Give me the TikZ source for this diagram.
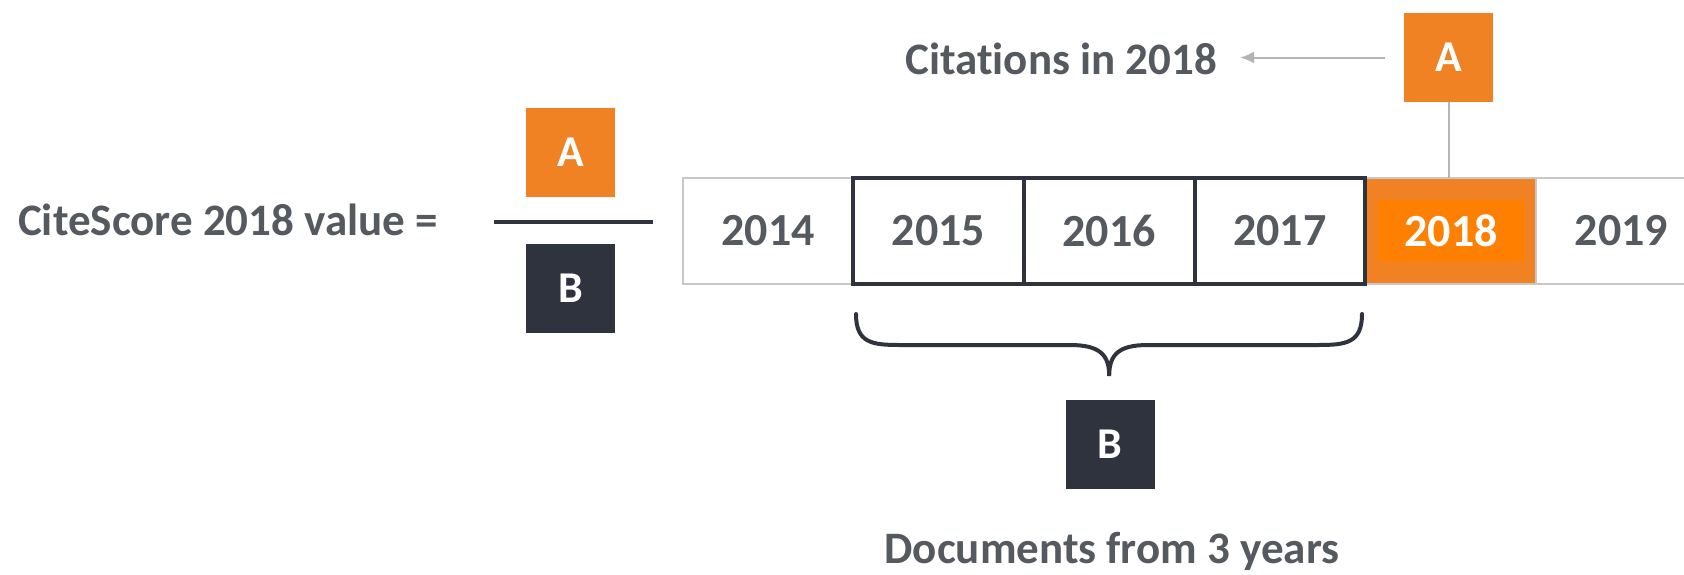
\documentclass[tikz,border=0pt]{standalone}
\usepackage{fontspec}
\setmainfont{Carlito}[Ligatures={NoCommon}]
\usetikzlibrary{arrows.meta}
\definecolor{orng}{HTML}{F08223}
\definecolor{orngin}{HTML}{FF8000}
\definecolor{darkbox}{HTML}{2F333D}
\definecolor{txtgray}{HTML}{555A60}
\definecolor{lightgr}{HTML}{C8C8C8}
\definecolor{arrgr}{HTML}{B4B4B4}
\begin{document}
\begin{tikzpicture}[x=1pt,y=-1pt,
  cell/.style={minimum width=170.6pt, minimum height=106pt, inner sep=0pt, outer sep=0pt,
    font=\fontsize{46}{50}\selectfont\bfseries, text=txtgray, draw=lightgr, line width=2pt},
  boldcell/.style={cell, draw=darkbox, line width=4pt},
  sq/.style={minimum size=89pt, inner sep=0pt, outer sep=0pt, font=\fontsize{44}{48}\selectfont\bfseries, text=white},
  lbl/.style={font=\fontsize{45}{50}\selectfont\bfseries, text=txtgray, inner sep=0pt},
  conn/.style={draw=arrgr, line width=2pt}
]
\useasboundingbox (0,0) rectangle (1684,574);
\fill[white] (0,0) rectangle (1684,574);
% left formula
\node[lbl, anchor=base east] (formula) at (438,235) {CiteScore 2018 value =};
\node[sq, fill=orng] (fa) at (570.5,152) {A};
\node[sq, fill=darkbox] (fb) at (570.5,288.5) {B};
\coordinate (fl) at (494,222);
\coordinate (fr) at (653,222);
\draw[darkbox, line width=4pt] (fl) -- (fr);
% year row
\node[cell] (y2014) at (768,231) {2014};
\node[cell, fill=orng, draw=orng, text=white] (y2018) at (1451,231) {};
\fill[orngin] (1378,200) rectangle (1524,262);
\node[cell, draw=none, text=white] (t2018) at (1451,231) {2018};
\node[cell] (y2019) at (1621.6,231) {2019};
\draw[lightgr, line width=2pt] (y2014.north west) -- (1700,178);
\draw[lightgr, line width=2pt] (y2014.south west) -- (1700,284);
\node[boldcell] (y2015) at (938.6,231) {2015};
\node[boldcell] (y2016) at (1109.2,231) {2016};
\node[boldcell] (y2017) at (1279.8,231) {2017};
% top A
\node[sq, fill=orng] (ta) at (1448.5,57.5) {A};
\draw[conn] (ta.south) -- (ta.south |- y2018.north);
\node[lbl, anchor=base east] (cit) at (1217,74) {Citations in 2018};
\draw[conn, -{Latex[length=14pt,width=12pt]}, shorten >=23pt, shorten <=19pt] (ta.west) -- (cit.east |- ta.west);
% brace
\coordinate (bl) at (856,314);
\coordinate (br) at (1362,314);
\coordinate (btip) at (1109.2,376);
\draw[darkbox, line width=4pt, line cap=round]
  (bl) .. controls (856,343) and (872,345) .. (900,345) -- (1070,345)
  .. controls (1100,345) and (1109.2,355) .. (btip)
  .. controls (1109.2,355) and (1118,345) .. (1148,345) -- (1318,345)
  .. controls (1346,345) and (1362,343) .. (br);
% bottom B
\node[sq, fill=darkbox] (bb) at (1110,444.5) {B};
\node[lbl, anchor=base] (docs) at (1112,563) {Documents from 3 years};
\end{tikzpicture}
\end{document}
